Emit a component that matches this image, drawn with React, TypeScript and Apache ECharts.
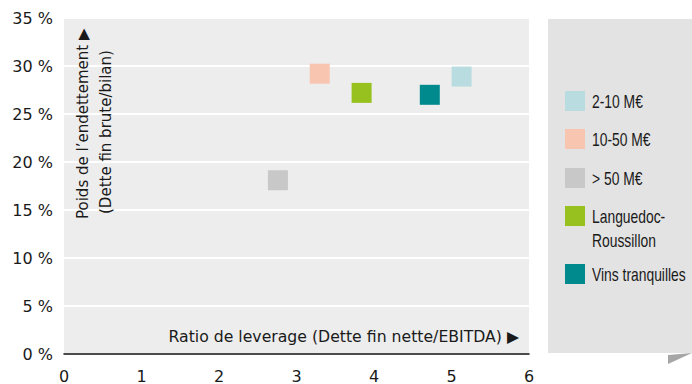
import React, { useEffect, useRef } from "react";
import * as echarts from "echarts";

const categories = ["2-10 M€", "10-50 M€", "> 50 M€", "Languedoc-\nRoussillon", "Vins tranquilles"];
const leverage = [5.13, 3.3, 2.76, 3.84, 4.72];
const debtWeight = [28.9, 29.2, 18.1, 27.2, 27.0];
const colors = ["#b8dcdf", "#f8c5b1", "#c8c8c8", "#97c11f", "#008a8e"];
const xTicks = [0, 1, 2, 3, 4, 5, 6];
const yTicks = [0, 5, 10, 15, 20, 25, 30, 35];
const xTitle = "Ratio de leverage (Dette fin nette/EBITDA) ▶";
const yTitle1 = "Poids de l’endettement ▶";
const yTitle2 = "(Dette fin brute/bilan)";

const FONT = "'DejaVu Sans', sans-serif";
const LEGEND_FONT = "'Liberation Sans', Arial, sans-serif";

export default function App() {
  const ref = useRef<HTMLDivElement>(null);
  useEffect(() => {
    if (!ref.current) return;
    const chart = echarts.init(ref.current, null, { renderer: "svg" });
    const legendTops = [91, 129, 168, 206, 264];
    const legendGraphics: any[] = [];
    categories.forEach((c, i) => {
      legendGraphics.push({
        type: "rect",
        z: 100,
        shape: { x: 565, y: legendTops[i], width: 20, height: 20 },
        style: { fill: colors[i] },
      });
      legendGraphics.push({
        type: "text",
        z: 100,
        x: 592,
        y: legendTops[i] - 1,
        scaleX: 0.73,
        style: {
          text: c,
          fill: "#1a1a1a",
          font: `19px ${LEGEND_FONT}`,
          lineHeight: 24,
          textAlign: "left",
          textVerticalAlign: "top",
        },
      });
    });
    chart.setOption({
      animation: false,
      backgroundColor: "#ffffff",
      grid: {
        left: 64,
        right: 163,
        top: 18,
        bottom: 30,
        show: true,
        backgroundColor: "#ededed",
        borderWidth: 0,
      },
      xAxis: {
        type: "value",
        min: xTicks[0],
        max: xTicks[xTicks.length - 1],
        interval: 1,
        axisLine: { show: true, lineStyle: { color: "#111", width: 1.5 } },
        axisTick: { show: false },
        splitLine: { show: false },
        axisLabel: { color: "#1a1a1a", fontSize: 16, fontFamily: FONT, margin: 14 },
      },
      yAxis: {
        type: "value",
        min: yTicks[0],
        max: yTicks[yTicks.length - 1],
        interval: 5,
        axisLine: { show: false },
        axisTick: { show: false },
        splitLine: { show: true, lineStyle: { color: "#ffffff", width: 2 } },
        axisLabel: {
          color: "#1a1a1a",
          fontSize: 16,
          fontFamily: FONT,
          margin: 11,
          formatter: "{value} %",
        },
      },
      series: categories.map((c, i) => ({
        name: c,
        type: "scatter",
        symbol: "rect",
        symbolSize: 20,
        itemStyle: { color: colors[i], opacity: 1 },
        data: [[leverage[i], debtWeight[i]]],
        z: 3,
      })),
      graphic: [
        {
          type: "rect",
          z: 50,
          shape: { x: 548, y: 19, width: 144, height: 334 },
          style: { fill: "#e3e3e3" },
        },
        {
          type: "polygon",
          z: 50,
          shape: { points: [[668, 355], [692, 353], [668, 364]] },
          style: { fill: "#a6a6a6" },
        },
        ...legendGraphics,
        {
          type: "text",
          z: 100,
          x: 519,
          y: 336,
          style: {
            text: xTitle,
            fill: "#1a1a1a",
            font: `15.7px ${FONT}`,
            textAlign: "right",
            textVerticalAlign: "middle",
          },
        },
        {
          type: "text",
          z: 100,
          x: 83,
          y: 219,
          rotation: Math.PI / 2,
          style: {
            text: yTitle1,
            fill: "#1a1a1a",
            font: `15px ${FONT}`,
            textAlign: "left",
            textVerticalAlign: "middle",
          },
        },
        {
          type: "text",
          z: 100,
          x: 106,
          y: 214,
          rotation: Math.PI / 2,
          style: {
            text: yTitle2,
            fill: "#1a1a1a",
            font: `15px ${FONT}`,
            textAlign: "left",
            textVerticalAlign: "middle",
          },
        },
      ],
    });
    return () => chart.dispose();
  }, []);
  return <div ref={ref} style={{ width: 692, height: 384, position: "absolute", left: 0, top: 0 }} />;
}
